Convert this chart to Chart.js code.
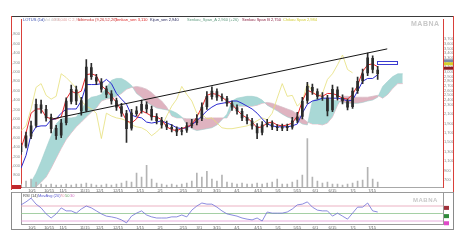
<!DOCTYPE html>
<html>
<head>
<meta charset="utf-8">
<script src="https://cdn.jsdelivr.net/npm/chart.js@4"></script>
<style>
  body { margin: 0; width: 465px; height: 245px; background: #fff; position: relative; overflow: hidden; font-family: "Liberation Sans", Arial, sans-serif; }
  canvas { position: absolute; }
  .ln { position: absolute; }
  .tx { position: absolute; font-size: 4px; line-height: 4px; white-space: nowrap; }
  .wm { position: absolute; font-weight: bold; color: #c8c8c8; letter-spacing: 0.5px; }
</style>
</head>
<body>
<canvas id="main" width="443" height="177" style="left:11px;top:16px"></canvas>
<canvas id="rsi" width="443" height="38" style="left:11px;top:192px"></canvas>

<!-- frame lines -->
<div class="ln" style="left:11px;top:16px;width:443px;height:1px;background:#3a3a3a"></div>
<div class="ln" style="left:11px;top:16px;width:1px;height:174px;background:#d9403a"></div>
<div class="ln" style="left:453px;top:16px;width:1px;height:177px;background:#d9403a"></div>
<div class="ln" style="left:11px;top:192px;width:443px;height:1px;background:#9a9a9a"></div>
<div class="ln" style="left:11px;top:192px;width:1px;height:38px;background:#8a8a8a"></div>
<div class="ln" style="left:453px;top:192px;width:1px;height:38px;background:#8a8a8a"></div>
<div class="ln" style="left:11px;top:229px;width:443px;height:1px;background:#8a8a8a"></div>
<div class="ln" style="left:12px;top:185px;width:9px;height:4px;background:#c0282c"></div>

<!-- header legend -->
<div class="tx" style="left:23px;top:18px;color:#3a4fb0">LOTUS (1d)</div>
<div class="tx" style="left:44px;top:18px;color:#c4c4c4">Vol 4.9M</div>
<div class="tx" style="left:53px;top:18px;color:#e4a6a6">O 3,040 C 2,960</div>
<div class="tx" style="left:78px;top:18px;color:#cc3333">Ichimoku (9,26,52,26)</div>
<div class="tx" style="left:115px;top:18px;color:#dd2222">Tenkan_sen 3,110</div>
<div class="tx" style="left:150px;top:18px;color:#22225a">Kijun_sen 2,940</div>
<div class="tx" style="left:187px;top:18px;color:#5e9a7e">Senkou_Span_A 2,960 (+26)</div>
<div class="tx" style="left:242px;top:18px;color:#8a2040">Senkou Span B 2,750</div>
<div class="tx" style="left:283px;top:18px;color:#d2cc30">Chikou Span 2,984</div>
<div class="wm" style="left:411px;top:20px;font-size:7px">MABNA</div>

<!-- RSI header -->
<div class="tx" style="left:23px;top:194px;color:#444">RSI (14)</div>
<div class="tx" style="left:38px;top:194px;color:#5a5ad0">MovAvg (20)</div>
<div class="tx" style="left:60px;top:194px;color:#e090a0">70</div>
<div class="tx" style="left:65px;top:194px;color:#6aa86a">50</div>
<div class="tx" style="left:70px;top:194px;color:#d070c0">30</div>
<div class="wm" style="left:413px;top:197px;font-size:6px">MABNA</div>

<script>
// date ticks (bar index) and their labels
const dateTicks = [2.2, 5.6, 8.4, 12.7, 15.7, 19.3, 23.7, 27.7, 32.3, 35.5, 39.0, 43.0, 47.2, 51.2, 55.0, 58.6, 62.0, 66.1, 69.9];
const dateLabels = ["10/1", "10/15", "11/1", "11/15", "12/1", "12/15", "1/15", "2/1", "2/15", "3/1", "3/15", "4/1", "4/15", "5/1", "5/15", "6/1", "6/15", "7/1", "7/15"];

// candles
const opens = [1300,1420,1630,1860,2300,2200,2030,1800,1650,1920,
  2370,2620,2390,2180,3090,2880,2790,2640,2530,2390,
  2260,2110,1800,2110,2180,2300,2200,2050,1970,1880,
  1820,1780,1730,1760,1860,1920,2010,2260,2470,2580,
  2470,2430,2320,2240,2160,2030,1950,1840,1710,1880,
  1900,1820,1800,1840,1820,1970,2050,2390,2670,2580,
  2470,2440,2190,2620,2450,2370,2260,2600,2810,2980,
  3290,3040];
const highs = [1480,1720,1950,2420,2400,2290,2100,1860,1990,2450,
  2720,2700,2460,3260,3180,2950,2860,2700,2600,2440,
  2330,2180,2200,2260,2400,2360,2270,2110,2030,1950,
  1880,1830,1820,1920,1990,2090,2340,2580,2680,2640,
  2530,2480,2380,2300,2220,2090,2010,1900,1940,1990,
  1960,1880,1890,1890,2030,2140,2460,2780,2740,2640,
  2560,2500,2720,2680,2510,2420,2660,2890,3060,3400,
  3340,3120];
const lows = [1240,1380,1580,1820,2120,1950,1700,1560,1600,1870,
  2320,2300,2080,2150,2840,2730,2570,2450,2310,2180,
  2050,1500,1760,2060,2120,2130,1970,1890,1800,1770,
  1720,1640,1660,1710,1810,1870,1960,2200,2420,2390,
  2380,2270,2180,2100,1960,1890,1780,1580,1660,1830,
  1770,1750,1750,1750,1780,1920,2000,2330,2520,2420,
  2390,2060,2150,2400,2320,2190,2220,2540,2750,2920,
  2980,2840];
const closes = [1410,1640,1850,2310,2210,2020,1790,1640,1910,2380,
  2630,2380,2170,3100,2900,2800,2630,2520,2380,2250,
  2120,1790,2120,2170,2310,2210,2040,1960,1870,1830,
  1790,1720,1750,1850,1910,2000,2250,2480,2590,2460,
  2440,2330,2250,2170,2020,1960,1850,1700,1870,1910,
  1830,1810,1830,1810,1960,2040,2380,2690,2590,2480,
  2460,2170,2630,2460,2380,2250,2590,2800,2960,3300,
  3050,2960];
const volumes = [3,6,8,5,3,2,3,2,2,3,
  2,3,3,4,3,2,2,3,2,3,
  4,6,5,14,10,22,8,4,3,2,
  3,2,3,4,6,14,10,16,8,6,
  12,5,4,3,4,3,3,4,3,4,
  5,8,3,3,5,7,12,49,10,6,
  4,5,3,3,2,3,4,6,7,20,
  8,5];

// ichimoku lines
const tenkan = [1370,1700,2120,2210,2210,2040,2000,2000,2040,2420,
  2590,2540,2590,2940,2960,2920,2710,2610,2480,2350,
  2170,1960,1910,2000,2170,2120,2060,2040,1980,1830,
  1770,1750,1790,1830,1870,2040,2250,2500,2540,2520,
  2460,2380,2310,2190,2080,2020,1930,1810,1830,1910,
  1930,1870,1850,1870,1910,2060,2380,2610,2560,2500,
  2480,2540,2540,2500,2440,2420,2520,2710,3010,3150,
  3170,3110];
const kijun = [950,1220,1660,1830,1850,1850,1980,2000,2120,2210,
  2210,2210,2380,2730,2730,2730,2750,2840,2750,2540,
  2420,2310,2080,2040,2020,1930,1910,1930,1960,1910,
  1870,1810,1790,1810,1870,1960,2060,2170,2250,2310,
  2330,2350,2380,2380,2330,2270,2210,2120,2000,1890,
  1850,1830,1830,1830,1850,1890,2120,2310,2380,2400,
  2440,2440,2440,2440,2420,2380,2400,2590,2800,2860,
  2860,2940];
const chikou = [1750,1850,2210,2670,2750,2500,2420,2480,2960,2880,
  2770,2650,2380,2270,2210,2120,1580,2120,2060,2020,
  2000,1960,1870,1830,1810,1750,1640,1720,1830,2060,
  2270,2420,2690,2520,2380,2120,2100,2000,2020,1910,
  1810,1790,1790,1810,1830,1850,1890,1960,2020,1980,
  2120,2440,2750,2480,2500,2270,2380,2750,2590,2480,
  2540,2840,2960,3150,3360,3050,2980];
const spanStart = 2;
const spanA = [650,840,1090,1370,1640,1890,2000,2020,2020,2040,
  2170,2380,2460,2480,2520,2670,2820,2860,2860,2800,
  2710,2540,2460,2350,2290,2230,2210,2190,2170,2120,
  2040,1870,1790,1750,1770,1790,1810,1870,1980,2100,
  2380,2440,2460,2480,2480,2460,2400,2290,2230,2170,
  2100,2040,2000,1960,1890,1870,2380,2440,2440,2420,
  2400,2380,2350,2330,2330,2330,2350,2380,2400,2460,
  2690,2800,2900,2960,2960];
const spanB = [530,550,650,760,950,1160,1370,1560,1700,1830,
  1930,2040,2140,2230,2380,2420,2440,2480,2540,2630,
  2670,2690,2670,2630,2560,2460,2380,2250,2060,2020,
  2020,2000,2000,2000,2000,2020,2020,2020,2020,2020,
  2210,2270,2270,2270,2270,2290,2330,2350,2330,2290,
  2250,2210,2170,2100,2020,1930,1890,1890,1870,1910,
  2040,2290,2480,2480,2460,2460,2460,2460,2480,2500,
  2440,2520,2650,2750,2750];

// trend line (bar index, price)
const trendX = [6.4, 72.9];
const trendY = [2000, 3490];

// drawn rectangle (bar index, price)
const boxX = [70.9, 74.9];
const boxY = [3236, 3173];

// axis tick values
const priceTicks = [800,1000,1200,1400,1600,1800,2000,2200,2400,2600,2800,3000,3200,3400,3600,3800];
const rightTicks = [3700,3600,3500,3400,3300,3200,3100,3000,2900,2800,2700,2600,2500,2400,2300,2100,1900,1700,1500,1300,1100,900,700];
const priceTags = [3236, 3173, 3078];
const priceTagColors = ["#7a8aa8", "#d6cf2a", "#8c1c24"];

// RSI
const rsi = [73,81,91,75,65,49,38,49,65,57,
  57,51,62,70,65,57,49,43,41,38,
  33,25,43,51,57,46,41,38,38,38,
  41,41,46,41,59,70,78,75,75,67,
  57,49,46,43,38,35,33,38,30,54,
  51,51,51,54,62,73,75,81,67,59,
  57,57,43,51,43,35,51,67,67,78,
  57,54];
const rsiLevels = [70, 50, 30];
const rsiLevelColors = ["#e6a0b4", "#8ec48e", "#e39ad6"];
const rsiTags = [65, 43, 24];
const rsiTagColors = ["#a0303a", "#2f8a3a", "#e048c8"];

const xMax = 84;
const pts = (arr, start) => arr.map((v, i) => ({ x: i + (start || 0), y: v }));
const fmt = v => Math.round(v).toLocaleString("en-US");
const tiny = { size: 4, family: "Liberation Sans" };
const noGrid = { display: false, drawTicks: false, tickLength: 0 };

function fixWidth(w) { return axis => { axis.width = w; }; }
function fixHeight(h) { return axis => { axis.height = h; }; }
function setTicks(list) { return axis => { axis.ticks = list.map(v => ({ value: v })); }; }

const xAxis = {
  type: "linear", min: 0, max: xMax, offset: false,
  grid: noGrid,
  border: { color: "#a8a8a8" },
  afterBuildTicks: setTicks(dateTicks),
  afterFit: fixHeight(6),
  ticks: { font: tiny, color: "#666", padding: 1, autoSkip: false, maxRotation: 0, minRotation: 0,
           callback: (v, i) => dateLabels[i] }
};

const tagPlugin = {
  id: "tags",
  afterDraw(chart) {
    const ctx = chart.ctx, ca = chart.chartArea;
    const y = chart.scales.y, x = chart.scales.x;
    ctx.save();
    if (chart.canvas.id === "main") {
      priceTags.forEach((v, k) => {
        const py = y.getPixelForValue(v);
        ctx.fillStyle = priceTagColors[k];
        ctx.fillRect(ca.right + 1, py - 1.5, 9, 3);
      });
      const x0 = x.getPixelForValue(boxX[0]), x1 = x.getPixelForValue(boxX[1]);
      const y0 = y.getPixelForValue(boxY[0]), y1 = y.getPixelForValue(boxY[1]);
      ctx.fillStyle = "#fff";
      ctx.fillRect(x0, y0, x1 - x0, y1 - y0);
      ctx.strokeStyle = "#3b3bd0";
      ctx.lineWidth = 1;
      ctx.strokeRect(Math.round(x0) + 0.5, Math.round(y0) + 0.5, Math.round(x1 - x0), Math.round(y1 - y0));
    } else {
      rsiTags.forEach((v, k) => {
        const py = y.getPixelForValue(v);
        ctx.fillStyle = rsiTagColors[k];
        ctx.fillRect(ca.right + 1, py - 2, 5, 4);
      });
    }
    ctx.restore();
  }
};

const idx = closes.map((_, i) => i);

new Chart(document.getElementById("main"), {
  type: "bar",
  data: {
    datasets: [
      { type: "line", label: "Trend", data: trendX.map((x, k) => ({ x: x, y: trendY[k] })),
        borderColor: "#151515", borderWidth: 1, pointRadius: 0, order: 1 },
      { type: "bar", label: "Body", data: idx.map(i => ({ x: i, y: [opens[i], closes[i]] })),
        backgroundColor: "#2b2b2b", barThickness: 2, grouped: false, order: 2 },
      { type: "bar", label: "Wick", data: idx.map(i => ({ x: i, y: [lows[i], highs[i]] })),
        backgroundColor: "#2b2b2b", barThickness: 1, grouped: false, order: 3 },
      { type: "line", label: "Tenkan", data: pts(tenkan), borderColor: "#e8262a", borderWidth: 1, pointRadius: 0, order: 4 },
      { type: "line", label: "Kijun", data: pts(kijun), borderColor: "#2a2ad0", borderWidth: 1, pointRadius: 0, order: 5 },
      { type: "line", label: "Chikou", data: pts(chikou), borderColor: "#e6e07a", borderWidth: 0.8, pointRadius: 0, order: 6 },
      { type: "bar", label: "Volume", yAxisID: "yV", data: idx.map(i => ({ x: i, y: volumes[i] })),
        backgroundColor: "#b4b4b4", barThickness: 1, grouped: false, order: 9 },
      { type: "line", label: "SpanA", data: pts(spanA, spanStart), borderColor: "#9fcfcc", borderWidth: 0.6, pointRadius: 0,
        fill: { target: "+1", above: "#a9d8d6", below: "#dfb3c0" }, order: 10 },
      { type: "line", label: "SpanB", data: pts(spanB, spanStart), borderColor: "#d6a3b1", borderWidth: 0.6, pointRadius: 0, order: 11 }
    ]
  },
  options: {
    responsive: false, animation: false,
    layout: { padding: { top: 1, right: 1 } },
    plugins: { legend: { display: false }, tooltip: { enabled: false } },
    scales: {
      x: xAxis,
      y: { position: "left", min: 548, max: 4118,
           grid: noGrid, border: { color: "#d9403a" },
           afterBuildTicks: setTicks(priceTicks), afterFit: fixWidth(10),
           ticks: { font: tiny, color: "#8a8a8a", padding: 1, autoSkip: false, callback: fmt } },
      yR: { position: "right", min: 548, max: 4118,
            grid: noGrid, border: { color: "#d9403a" },
            afterBuildTicks: setTicks(rightTicks), afterFit: fixWidth(10),
            ticks: { font: tiny, color: "#8a8a8a", padding: 1, autoSkip: false, callback: fmt } },
      yV: { display: false, min: 0, max: 170 }
    }
  },
  plugins: [tagPlugin]
});

new Chart(document.getElementById("rsi"), {
  type: "line",
  data: {
    datasets: [
      { label: "RSI", data: pts(rsi), borderColor: "#6f6fd6", borderWidth: 0.8, pointRadius: 0, order: 1 }
    ].concat(rsiLevels.map((v, k) => ({
      label: "L" + v, data: [{ x: 0, y: v }, { x: xMax, y: v }],
      borderColor: rsiLevelColors[k], borderWidth: 0.8, pointRadius: 0, order: 2
    })))
  },
  options: {
    responsive: false, animation: false,
    layout: { padding: { top: 1, right: 1, bottom: 1 } },
    plugins: { legend: { display: false }, tooltip: { enabled: false } },
    scales: {
      x: Object.assign({}, xAxis, { afterFit: fixHeight(5), border: { color: "#9a9a9a" } }),
      y: { position: "left", min: 22, max: 104.7, grid: noGrid, border: { color: "#9a9a9a" },
           afterFit: fixWidth(10), ticks: { display: false } },
      yR: { position: "right", min: 22, max: 104.7, grid: noGrid, border: { color: "#9a9a9a" },
            afterFit: fixWidth(10), ticks: { display: false } }
    }
  },
  plugins: [tagPlugin]
});
</script>
</body>
</html>
